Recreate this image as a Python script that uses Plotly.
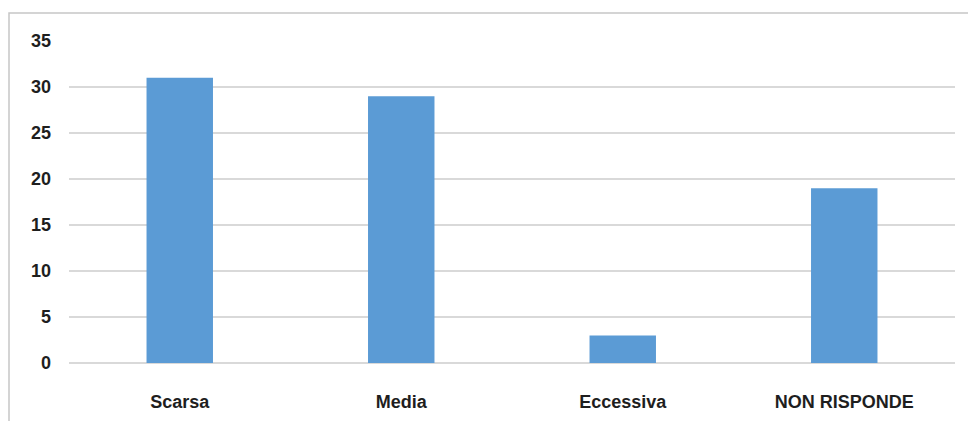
import plotly.graph_objects as go

categories = ["Scarsa", "Media", "Eccessiva", "NON RISPONDE"]
values = [31, 29, 3, 19]
y_ticks = [0, 5, 10, 15, 20, 25, 30, 35]

# page body has an 8px margin, so the figure starts at (8, 8)
OFF = 8
W, H = 976 - OFF, 421 - OFF
L, R, T, B = 69 - OFF, 21, 41 - OFF, 58
pw, ph = W - L - R, H - T - B

fig = go.Figure()
fig.add_trace(go.Bar(
    x=categories, y=values,
    marker=dict(color="#5b9bd5", line=dict(width=0)),
    width=0.30,
))

fig.add_shape(
    type="rect", xref="paper", yref="paper",
    x0=(9 - OFF - L) / pw, x1=1.2,
    y0=-0.5, y1=(H - B - (13 - OFF)) / ph,
    line=dict(color="#c6c6c6", width=1.5),
    fillcolor="rgba(0,0,0,0)", layer="below",
)

font = dict(family="Liberation Sans", size=18, color="#1e1e1e", weight="bold")

fig.update_layout(
    width=W, height=H,
    margin=dict(l=L, r=R, t=T, b=B, pad=0),
    paper_bgcolor="white", plot_bgcolor="white",
    showlegend=False,
    xaxis=dict(
        showgrid=False, showline=False, ticks="",
        tickfont=font, ticklabelstandoff=26,
        range=[-0.5, 3.5], automargin=False,
    ),
    yaxis=dict(
        range=[0, 35], tickvals=y_ticks,
        showgrid=True, gridcolor="#d9d9d9", gridwidth=1.5,
        zeroline=True, zerolinecolor="#d9d9d9", zerolinewidth=1.5,
        showline=False, ticks="",
        tickfont=font, ticklabelstandoff=17, automargin=False,
    ),
)

fig.write_html("out.html")
